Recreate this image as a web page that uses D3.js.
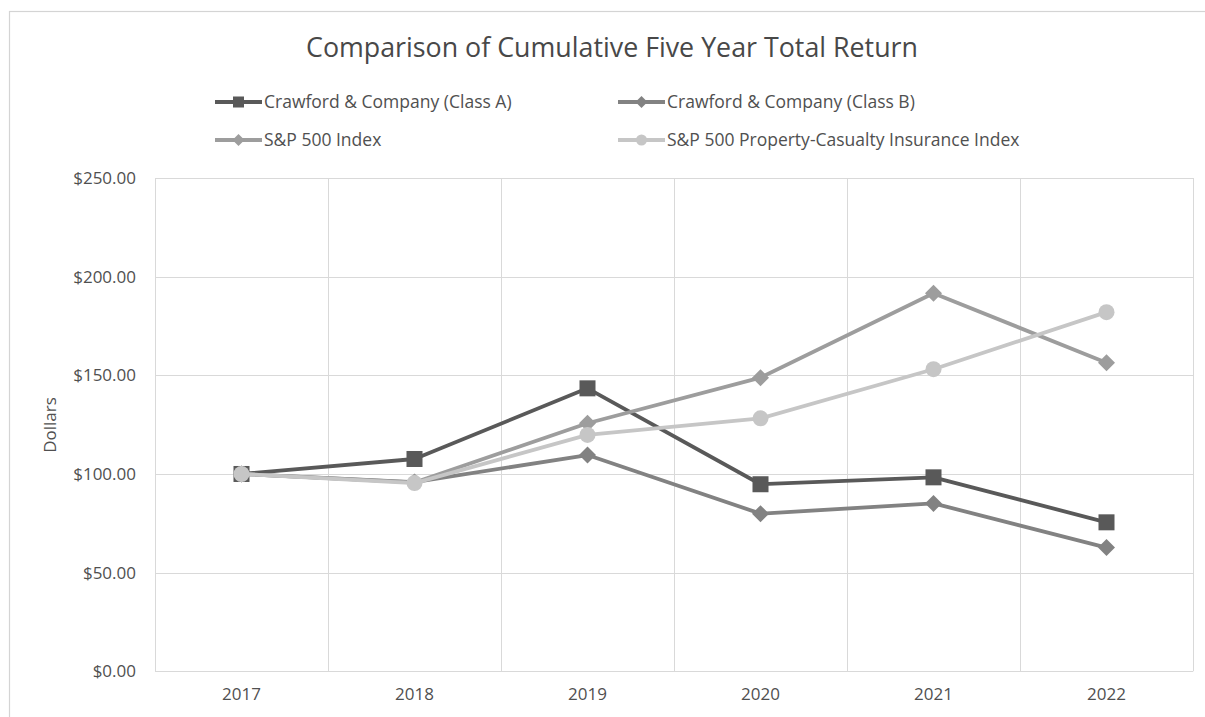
<!DOCTYPE html>
<html>
<head>
<meta charset="utf-8">
<script src="https://cdn.jsdelivr.net/npm/d3@7"></script>
<style>
  html, body { margin: 0; padding: 0; background: #fff; }
  svg { display: block; font-family: "Open Sans", sans-serif; }
</style>
</head>
<body>
<svg id="chart" width="1205" height="717"></svg>
<script>
const title = "Comparison of Cumulative Five Year Total Return";
const yAxisTitle = "Dollars";
const years = ["2017", "2018", "2019", "2020", "2021", "2022"];
const yTicks = [0, 50, 100, 150, 200, 250];
const seriesNames = [
  "Crawford & Company (Class A)",
  "Crawford & Company (Class B)",
  "S&P 500 Index",
  "S&P 500 Property-Casualty Insurance Index"
];
const classA = [100, 107.6, 143.4, 94.8, 98.3, 75.5];
const classB = [100, 95.9, 109.6, 79.9, 85.1, 62.7];
const sp500 = [100, 95.7, 125.7, 148.8, 191.6, 156.4];
const propCas = [100, 95.4, 119.8, 128.2, 153.1, 182.0];

const seriesValues = [classA, classB, sp500, propCas];
const seriesColors = ["#595959", "#828282", "#9d9d9d", "#c6c6c6"];
const seriesMarkers = ["square", "diamond", "diamond", "circle"];

const svg = d3.select("#chart");

// chart border
svg.append("rect")
  .attr("x", 9.5).attr("y", 11.5)
  .attr("width", 1210).attr("height", 720)
  .attr("fill", "#fff").attr("stroke", "#d4d4d4").attr("stroke-width", 1.2);

const plot = { left: 155, right: 1193, top: 178, bottom: 671.3 };

const x = d3.scaleBand().domain(years).range([plot.left, plot.right]).padding(0);
const y = d3.scaleLinear().domain([0, 250]).range([plot.bottom, plot.top]);

// horizontal gridlines
svg.append("g").selectAll("line").data(yTicks).join("line")
  .attr("x1", plot.left).attr("x2", plot.right)
  .attr("y1", d => Math.round(y(d)) + 0.5).attr("y2", d => Math.round(y(d)) + 0.5)
  .attr("stroke", "#d9d9d9").attr("stroke-width", 1);

// vertical gridlines at category boundaries
const bounds = years.map(d => x(d)).concat([plot.right]);
svg.append("g").selectAll("line").data(bounds).join("line")
  .attr("x1", d => Math.round(d) + 0.5).attr("x2", d => Math.round(d) + 0.5)
  .attr("y1", plot.top).attr("y2", plot.bottom)
  .attr("stroke", "#d9d9d9").attr("stroke-width", 1);

// y axis labels
const yAxis = d3.axisLeft(y).tickValues(yTicks).tickSize(0).tickPadding(0)
  .tickFormat(d => "$" + d3.format(".2f")(d));
const gy = svg.append("g").attr("transform", `translate(136,0)`).call(yAxis);
gy.select(".domain").remove();
gy.selectAll("text").attr("font-size", 17).attr("fill", "#505050")
  .attr("font-family", "Open Sans, sans-serif");

// x axis labels
const xAxis = d3.axisBottom(x).tickSize(0).tickPadding(0);
const gx = svg.append("g").attr("transform", `translate(0,${plot.bottom + 17})`).call(xAxis);
gx.select(".domain").remove();
gx.selectAll("text").attr("font-size", 17).attr("fill", "#505050")
  .attr("font-family", "Open Sans, sans-serif");

// y axis title
svg.append("text")
  .attr("transform", "translate(56,425) rotate(-90)")
  .attr("text-anchor", "middle")
  .attr("font-size", 17).attr("fill", "#505050")
  .text(yAxisTitle);

// title
svg.append("text")
  .attr("x", 612).attr("y", 57)
  .attr("text-anchor", "middle")
  .attr("font-size", 26.8).attr("fill", "#484848")
  .text(title);

function drawMarker(g, type, cx, cy, size, color) {
  if (type === "square") {
    g.append("rect").attr("x", cx - size / 2).attr("y", cy - size / 2)
      .attr("width", size).attr("height", size).attr("fill", color);
  } else if (type === "diamond") {
    const h = size / 2;
    g.append("path")
      .attr("d", `M${cx},${cy - h}L${cx + h},${cy}L${cx},${cy + h}L${cx - h},${cy}Z`)
      .attr("fill", color);
  } else {
    g.append("circle").attr("cx", cx).attr("cy", cy).attr("r", size / 2).attr("fill", color);
  }
}

// series
const line = d3.line().x((d, i) => x(years[i]) + x.bandwidth() / 2).y(d => y(d));
seriesValues.forEach((vals, si) => {
  const g = svg.append("g");
  g.append("path").datum(vals)
    .attr("d", line)
    .attr("fill", "none")
    .attr("stroke", seriesColors[si])
    .attr("stroke-width", 3.8)
    .attr("stroke-linejoin", "round");
  vals.forEach((v, i) => {
    drawMarker(g, seriesMarkers[si], x(years[i]) + x.bandwidth() / 2, y(v),
      seriesMarkers[si] === "diamond" ? 17 : 16, seriesColors[si]);
  });
});

// legend
const legendPos = [
  { lx: 215, ty: 102 },
  { lx: 618, ty: 102 },
  { lx: 215, ty: 140 },
  { lx: 618, ty: 140 }
];
seriesNames.forEach((name, si) => {
  const p = legendPos[si];
  const g = svg.append("g");
  g.append("line")
    .attr("x1", p.lx).attr("x2", p.lx + 47)
    .attr("y1", p.ty).attr("y2", p.ty)
    .attr("stroke", seriesColors[si]).attr("stroke-width", 3.8);
  drawMarker(g, seriesMarkers[si], p.lx + 23.5, p.ty,
    seriesMarkers[si] === "diamond" ? 12 : 11, seriesColors[si]);
  g.append("text")
    .attr("x", p.lx + 49).attr("y", p.ty).attr("dy", "0.35em")
    .attr("font-size", 17.5).attr("fill", "#505050")
    .text(name);
});
</script>
</body>
</html>
